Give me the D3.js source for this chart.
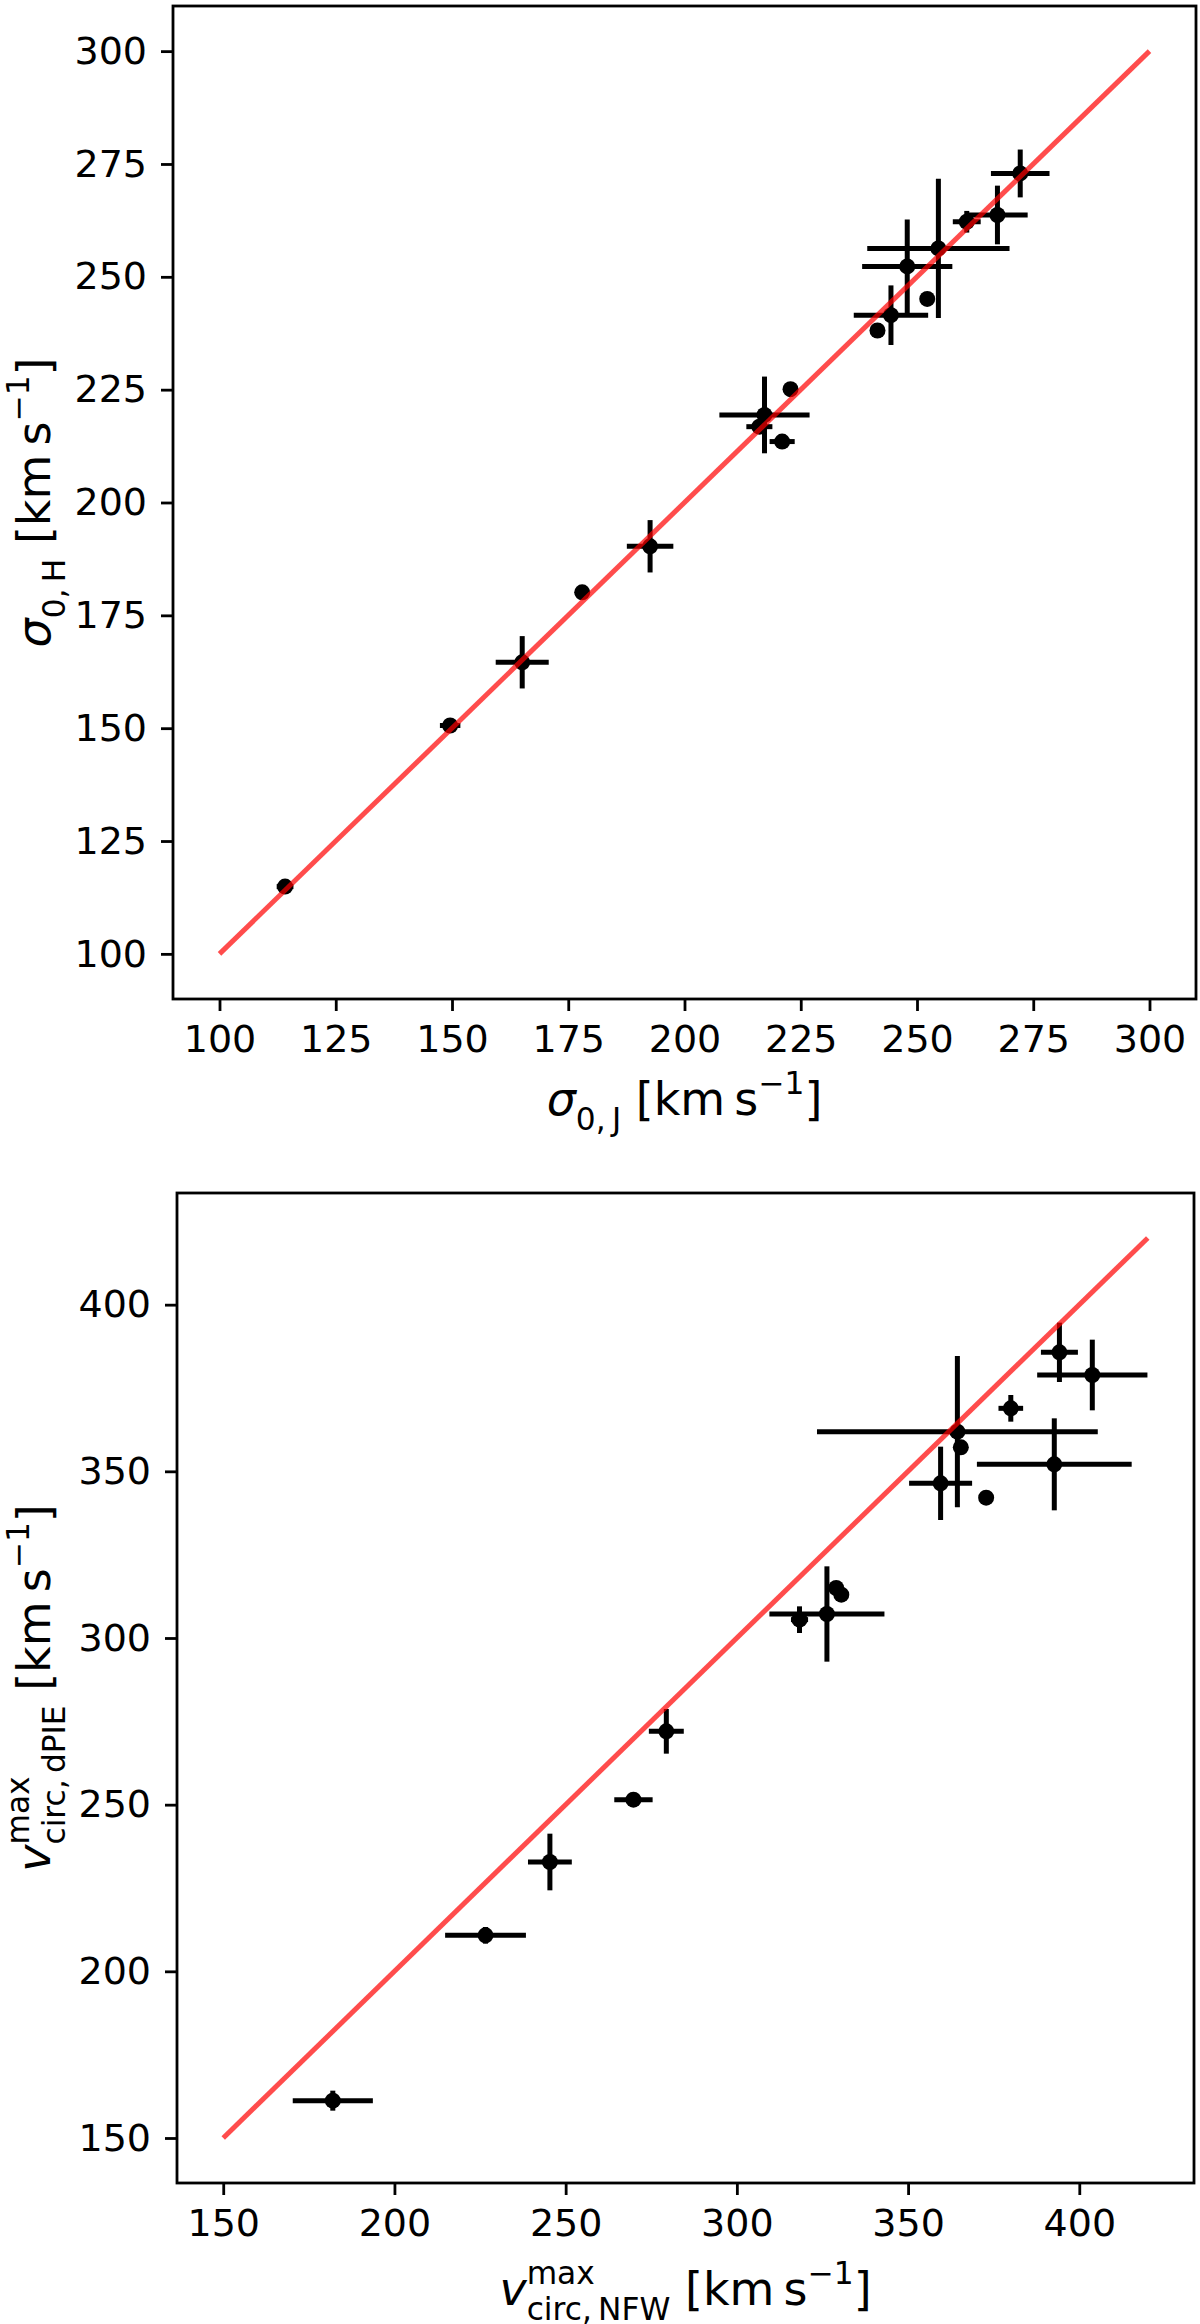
<!DOCTYPE html>
<html>
<head>
<meta charset="utf-8">
<script src="https://cdn.jsdelivr.net/npm/d3@7"></script>
<style>
  body { margin: 0; background: #fff; }
  text { font-family: "DejaVu Sans", sans-serif; white-space: pre; }
</style>
</head>
<body>
<svg id="chart" width="1200" height="2324"></svg>
<script>
// Top panel: sigma_0 from H vs J
const topX    = [114.1, 149.6, 165.1, 178.0, 192.6, 216.1, 217.2, 221.0, 222.8, 241.5, 244.4, 247.9, 252.2, 254.6, 260.7, 267.3, 272.2];
const topY    = [114.9, 150.6, 164.6, 180.1, 190.3, 216.8, 219.4, 213.5, 225.1, 238.1, 241.5, 252.3, 245.1, 256.3, 262.2, 263.7, 272.9];
const topXErr = [1.8, 2.2, 5.7, 1.5, 5.0, 2.8, 9.7, 2.7, 1.0, 0.0, 8.0, 9.7, 1.0, 15.3, 3.0, 6.5, 6.3];
const topYErr = [1.2, 1.5, 5.8, 1.2, 5.8, 1.0, 8.5, 0.8, 1.6, 0.0, 6.6, 10.4, 0.5, 15.4, 2.4, 6.5, 5.3];
const topTicks = [100, 125, 150, 175, 200, 225, 250, 275, 300];
const topLine  = [100, 300];

// Bottom panel: v_circ max dPIE vs NFW
const botX    = [182.0, 226.6, 245.4, 269.8, 279.4, 318.3, 326.3, 329.0, 330.5, 359.5, 364.4, 365.4, 372.8, 380.0, 392.7, 394.2, 403.8];
const botY    = [161.2, 210.8, 232.8, 251.5, 272.0, 305.5, 307.2, 315.0, 313.0, 346.4, 361.9, 357.2, 342.1, 368.9, 352.1, 385.7, 378.9];
const botXErr = [11.7, 11.8, 6.4, 5.6, 5.1, 2.5, 16.8, 1.5, 1.5, 9.2, 41.0, 1.0, 0.0, 3.6, 22.6, 5.4, 16.1];
const botYErr = [3.0, 2.5, 8.5, 1.5, 6.7, 4.0, 14.3, 2.0, 2.0, 11.0, 22.7, 1.5, 0.0, 4.0, 13.8, 8.9, 10.6];
const botTicks = [150, 200, 250, 300, 350, 400];
const botLine  = [150, 420];

const svg = d3.select("#chart");
const TICK_FS = 38;
const LABEL_FS = 46;

// Writes a label made of plain pieces and sub/superscripts, returns its width
function mathLabel(parent, parts, fs) {
  const g = parent.append("g");
  let x = 0;
  parts.forEach(p => {
    if (p.sup !== undefined || p.sub !== undefined) {
      let w = 0;
      if (p.sup !== undefined) {
        const t = g.append("text").attr("x", x).attr("y", -fs * 0.46)
          .attr("font-size", fs * 0.68).text(p.sup);
        w = Math.max(w, t.node().getComputedTextLength());
      }
      if (p.sub !== undefined) {
        const t = g.append("text").attr("x", x).attr("y", fs * 0.33)
          .attr("font-size", fs * 0.68).text(p.sub);
        w = Math.max(w, t.node().getComputedTextLength());
      }
      x += w;
    } else {
      const t = g.append("text").attr("x", x).attr("y", 0)
        .attr("font-size", fs)
        .attr("font-style", p.it ? "italic" : "normal")
        .text(p.t);
      x += t.node().getComputedTextLength();
    }
  });
  return { g, width: x };
}

function drawPanel(cfg) {
  const x = d3.scaleLinear().domain(cfg.domain).range([cfg.left, cfg.left + cfg.width]);
  const y = d3.scaleLinear().domain(cfg.domain).range([cfg.top + cfg.height, cfg.top]);
  const g = svg.append("g");

  // axes
  const yAxis = d3.axisLeft(y).tickValues(cfg.ticks).tickSize(12).tickPadding(14).tickSizeOuter(0);
  const xAxis = d3.axisBottom(x).tickValues(cfg.ticks).tickSize(12).tickPadding(14).tickSizeOuter(0);

  const ya = g.append("g").attr("transform", `translate(${cfg.left},0)`).call(yAxis);
  const xa = g.append("g").attr("transform", `translate(0,${cfg.top + cfg.height})`).call(xAxis);
  [ya, xa].forEach(a => {
    a.select(".domain").remove();
    a.selectAll(".tick line").attr("stroke", "#000").attr("stroke-width", 2.8);
    a.selectAll(".tick text").attr("fill", "#000").attr("font-size", TICK_FS)
      .attr("font-family", "DejaVu Sans");
  });

  // error bars
  const pts = cfg.xs.map((v, i) => ({ x: v, y: cfg.ys[i], ex: cfg.xerr[i], ey: cfg.yerr[i] }));
  g.selectAll("line.ex").data(pts).enter().append("line")
    .attr("class", "ex")
    .attr("x1", d => x(d.x - d.ex)).attr("x2", d => x(d.x + d.ex))
    .attr("y1", d => y(d.y)).attr("y2", d => y(d.y))
    .attr("stroke", "#000").attr("stroke-width", 5);
  g.selectAll("line.ey").data(pts).enter().append("line")
    .attr("class", "ey")
    .attr("x1", d => x(d.x)).attr("x2", d => x(d.x))
    .attr("y1", d => y(d.y - d.ey)).attr("y2", d => y(d.y + d.ey))
    .attr("stroke", "#000").attr("stroke-width", 5);
  g.selectAll("circle").data(pts).enter().append("circle")
    .attr("cx", d => x(d.x)).attr("cy", d => y(d.y)).attr("r", 8)
    .attr("fill", "#000");

  // one-to-one line
  g.append("line")
    .attr("x1", x(cfg.line[0])).attr("y1", y(cfg.line[0]))
    .attr("x2", x(cfg.line[1])).attr("y2", y(cfg.line[1]))
    .attr("stroke", "red").attr("stroke-opacity", 0.7).attr("stroke-width", 5);

  // frame
  g.append("rect")
    .attr("x", cfg.left).attr("y", cfg.top)
    .attr("width", cfg.width).attr("height", cfg.height)
    .attr("fill", "none").attr("stroke", "#000").attr("stroke-width", 2.8);

  // axis labels
  const xl = mathLabel(g, cfg.xLabel, LABEL_FS);
  xl.g.attr("transform", `translate(${cfg.left + cfg.width / 2 - xl.width / 2},${cfg.top + cfg.height + cfg.xLabelGap})`);
  const yl = mathLabel(g, cfg.yLabel, LABEL_FS);
  yl.g.attr("transform", `translate(${cfg.yLabelX},${cfg.top + cfg.height / 2 + yl.width / 2}) rotate(-90)`);
}

drawPanel({
  left: 173, top: 6, width: 1023, height: 993,
  domain: [90, 310], ticks: topTicks, line: topLine,
  xs: topX, ys: topY, xerr: topXErr, yerr: topYErr,
  xLabelGap: 116, yLabelX: 50,
  xLabel: [{ t: "σ", it: true }, { sub: "0,\u2009J" }, { t: " [km\u2009s" }, { sup: "−1" }, { t: "]" }],
  yLabel: [{ t: "σ", it: true }, { sub: "0,\u2009H" }, { t: " [km\u2009s" }, { sup: "−1" }, { t: "]" }]
});

drawPanel({
  left: 177, top: 1193, width: 1017, height: 990,
  domain: [136.5, 433.5], ticks: botTicks, line: botLine,
  xs: botX, ys: botY, xerr: botXErr, yerr: botYErr,
  xLabelGap: 122, yLabelX: 50,
  xLabel: [{ t: "v", it: true }, { sup: "max", sub: "circ,\u2009NFW" }, { t: " [km\u2009s" }, { sup: "−1" }, { t: "]" }],
  yLabel: [{ t: "v", it: true }, { sup: "max", sub: "circ,\u2009dPIE" }, { t: " [km\u2009s" }, { sup: "−1" }, { t: "]" }]
});
</script>
</body>
</html>
